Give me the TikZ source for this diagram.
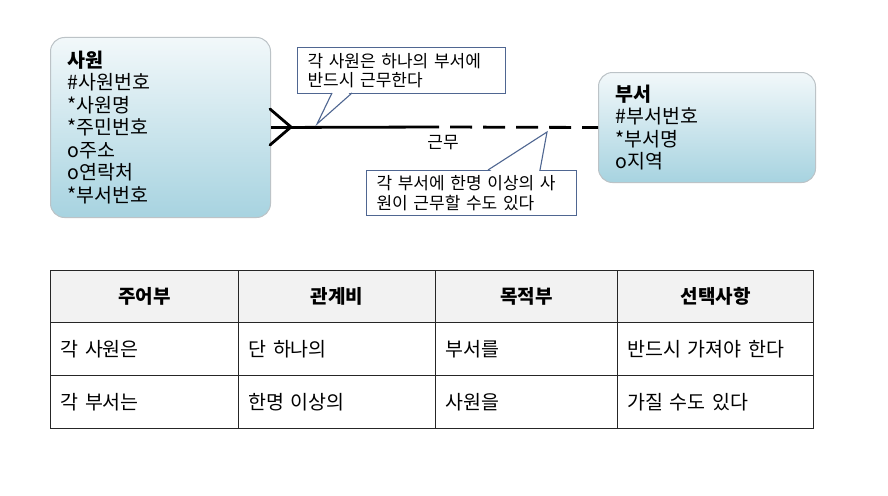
\documentclass[tikz,border=0pt]{standalone}
\usepackage{fontspec}
\setmainfont{Noto Sans CJK KR}
\definecolor{entTop}{HTML}{F2F8FA}
\definecolor{entMid}{HTML}{CFE7EE}
\definecolor{entBot}{HTML}{A7D3E0}
\definecolor{entLine}{HTML}{BCC3C7}
\definecolor{callLine}{HTML}{4F6691}
\definecolor{headFill}{HTML}{F2F2F2}
\begin{document}
\begin{tikzpicture}[x=1pt,y=-1pt,
  entity/.style={draw=entLine, line width=1pt, rounded corners=14pt,
    top color=entTop, middle color=entMid, bottom color=entBot,
    anchor=north west, align=left, inner xsep=17pt, inner ysep=0pt,
    font=\fontsize{19.5}{22.5}\selectfont},
  callout/.style={draw=callLine, line width=1.1pt, fill=white, anchor=north west,
    align=left, inner xsep=10pt, inner ysep=0pt,
    font=\fontsize{17}{19.5}\selectfont},
  rel/.style={line width=2.8pt, black},
  cell/.style={draw=black!85, line width=1.2pt, anchor=north west, inner sep=0pt,
    font=\fontsize{19.5}{22}\selectfont},
  hcell/.style={cell, fill=headFill, align=center, font=\fontsize{19}{22}\selectfont\bfseries},
  bcell/.style={cell, align=left, inner xsep=10pt}
]
\useasboundingbox[fill=white] (0,0) rectangle (888,495);

% entities
\node[entity, text width=186pt, minimum height=180pt] (e1) at (50,37)
  {{\bfseries 사원}\\\#사원번호\\{}*사원명\\{}*주민번호\\{}o주소\\{}o연락처\\{}*부서번호};
\node[entity, text width=183pt, minimum height=110pt] (e2) at (598,72)
  {{\bfseries 부서}\\\#부서번호\\{}*부서명\\{}o지역};

% relationship
\coordinate (cf) at (291,127);
\coordinate (cfu) at (270,109);
\coordinate (cfd) at (270,145);
\coordinate (mid) at (439,127);
\draw[rel] (e1.east) -- (mid);
\draw[rel, dash pattern=on 22pt off 11pt, dash phase=22pt] (mid) -- (e2.west);
\draw[rel, line cap=round] (cfu) -- (cf) -- (cfd);
\node[font=\fontsize{17}{19}\selectfont] (lbl) at (443,143) {근무};

% callout 1
\node[callout, text width=188pt, minimum height=46pt] (c1) at (297,47)
  {각 사원은 하나의 부서에\\반드시 근무한다};
\coordinate (p1a) at (332,93);
\coordinate (p1b) at (352,93);
\coordinate (p1t) at (317,124);
\fill[white] (333,91.5) -- (p1t) -- (351,91.5) -- cycle;
\draw[callLine, line width=1.1pt, line join=miter] (p1a) -- (p1t) -- (p1b);

% callout 2
\node[callout, text width=190pt, minimum height=45pt] (c2) at (366,170)
  {각 부서에 한명 이상의 사\\원이 근무할 수도 있다};
\coordinate (p2a) at (488,170);
\coordinate (p2b) at (540,170);
\coordinate (p2t) at (547,132);
\fill[white] (489.5,171.5) -- (p2t) -- (539,171.5) -- cycle;
\draw[callLine, line width=1.1pt, line join=miter] (p2a) -- (p2t) -- (p2b);

% table header
\node[hcell, minimum width=188pt, minimum height=52pt] (h1) at (50,270) {주어부};
\node[hcell, minimum width=197pt, minimum height=52pt] (h2) at (238,270) {관계비};
\node[hcell, minimum width=182pt, minimum height=52pt] (h3) at (435,270) {목적부};
\node[hcell, minimum width=196pt, minimum height=52pt] (h4) at (617,270) {선택사항};
% row 1
\node[bcell, text width=168pt, minimum height=53pt] (a1) at (50,322) {각 사원은};
\node[bcell, text width=177pt, minimum height=53pt] (a2) at (238,322) {단 하나의};
\node[bcell, text width=162pt, minimum height=53pt] (a3) at (435,322) {부서를};
\node[bcell, text width=176pt, minimum height=53pt] (a4) at (617,322) {반드시 가져야 한다};
% row 2
\node[bcell, text width=168pt, minimum height=53pt] (b1) at (50,375) {각 부서는};
\node[bcell, text width=177pt, minimum height=53pt] (b2) at (238,375) {한명 이상의};
\node[bcell, text width=162pt, minimum height=53pt] (b3) at (435,375) {사원을};
\node[bcell, text width=176pt, minimum height=53pt] (b4) at (617,375) {가질 수도 있다};
\end{tikzpicture}
\end{document}
